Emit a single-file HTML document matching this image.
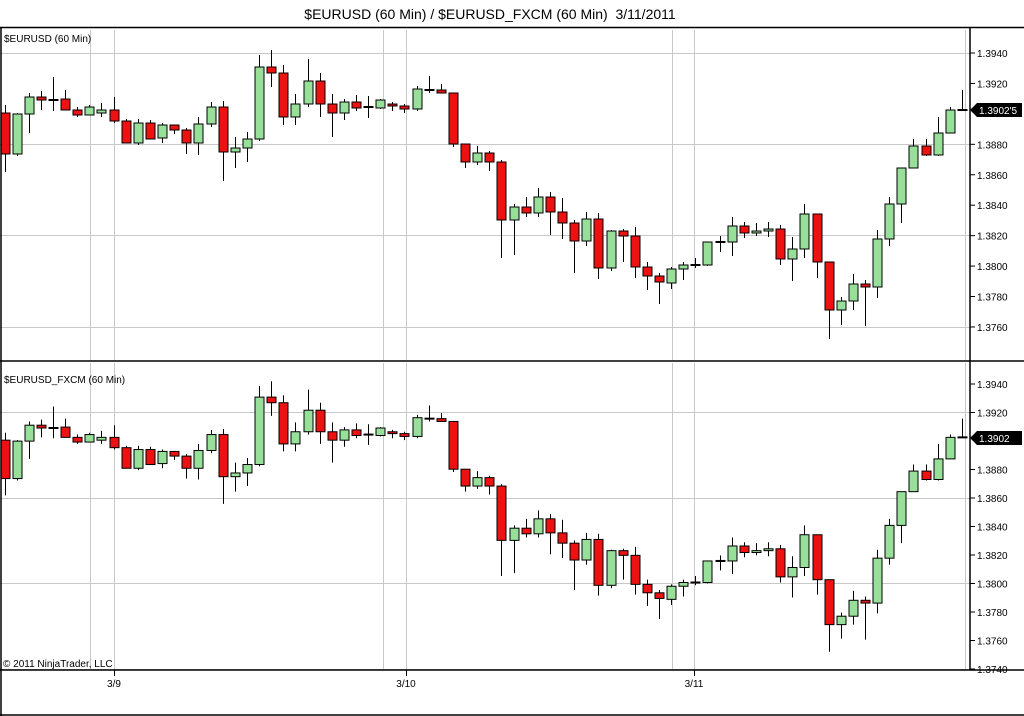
<!DOCTYPE html>
<html><head><meta charset="utf-8"><style>
html,body{margin:0;padding:0;background:#fff;width:1024px;height:716px;overflow:hidden}
svg{display:block}
text{font-family:"Liberation Sans",Arial,sans-serif}
</style></head><body>
<svg id="c" width="1024" height="716" viewBox="0 0 1024 716" xmlns="http://www.w3.org/2000/svg">
<text x="490" y="19" font-size="14" text-anchor="middle" fill="#000">$EURUSD (60 Min) / $EURUSD_FXCM (60 Min)&#160; 3/11/2011</text>
<g id="grid" stroke="#c8c8c8" stroke-width="1"></g>
<g id="cand"></g>
<g stroke="#000" stroke-width="1.5" fill="none">
<line x1="0" y1="27.5" x2="1024" y2="27.5"/>
<line x1="0" y1="361" x2="1024" y2="361"/>
<line x1="0" y1="670" x2="1024" y2="670"/>
<line x1="1" y1="27" x2="1" y2="716"/>
<line x1="970" y1="27" x2="970" y2="670"/>
<line x1="0" y1="715" x2="1024" y2="715"/>
</g>
<text x="4" y="42" font-size="10">$EURUSD (60 Min)</text>
<text x="4" y="383" font-size="10">$EURUSD_FXCM (60 Min)</text>
<text x="3" y="667" font-size="10">© 2011 NinjaTrader, LLC</text>
<g id="axis" font-size="10"></g>
</svg>
<script>
var d=[[113,154,105,172],[154,114,113,156],[114,97,93,133],[97,100,91,110],[100,100,77,111],[99,110,90,110],[110,115,107,117],[115,107,105,115],[113,110,103,117],[110,121,97,123],[121,143,119,143],[143,123,119,145],[123,139,120,139],[138,125,123,143],[125,130,125,134],[130,143,128,154],[143,124,117,155],[124,107,102,127],[107,152,101,181],[152,148,137,168],[148,139,132,162],[139,67,55,141],[67,73,50,87],[73,117,65,125],[117,104,94,125],[104,81,59,107],[81,104,73,117],[104,113,94,137],[113,102,99,120],[102,108,95,111],[107,107,96,118],[108,100,99,109],[104,106,102,111],[106,109,104,113],[109,89,86,111],[90,90,76,93],[90,93,84,93],[93,144,93,147],[144,162,144,168],[162,153,146,165],[153,162,151,171],[162,220,160,258],[220,207,204,255],[207,213,197,217],[213,197,188,217],[197,212,192,235],[212,223,198,239],[223,241,220,273],[241,219,212,246],[219,268,213,279],[268,231,230,271],[231,236,229,262],[236,267,227,278],[267,276,262,290],[276,282,273,304],[283,269,267,289],[269,265,262,280],[265,265,258,268],[265,242,242,266],[242,242,236,252],[242,226,217,256],[226,233,222,238],[233,231,223,236],[231,229,222,237],[229,259,225,265],[259,249,237,281],[249,214,204,258],[214,262,214,278],[262,310,262,339],[310,301,297,325],[301,284,274,310],[284,287,280,326],[287,239,230,298],[239,204,197,246],[204,168,168,223],[168,146,139,168],[146,155,139,156],[155,133,117,156],[133,110,107,133],[110,110,90,110]];
var ns="http://www.w3.org/2000/svg";
function el(p,t,a,txt){var e=document.createElementNS(ns,t);for(var k in a)e.setAttribute(k,a[k]);if(txt)e.textContent=txt;p.appendChild(e);return e;}
var g=document.getElementById('grid'),cg=document.getElementById('cand'),ax=document.getElementById('axis');
[90,114,383,406,672,694,965].forEach(function(x){el(g,'line',{x1:x+.5,y1:30,x2:x+.5,y2:360});el(g,'line',{x1:x+.5,y1:363,x2:x+.5,y2:670});});
[53,144,235,327].forEach(function(y){el(g,'line',{x1:0,y1:y+.5,x2:970,y2:y+.5});});
[412,498,583,669].forEach(function(y){el(g,'line',{x1:0,y1:y+.5,x2:970,y2:y+.5});});
function draw(f){for(var i=0;i<d.length;i++){var x=Math.round(4.5+12.12*i)+.5,o=f(d[i][0]),c=f(d[i][1]),h=f(d[i][2]),l=f(d[i][3]);
 el(cg,'line',{x1:x,y1:h,x2:x,y2:l,stroke:'#000','stroke-width':1});
 var t=Math.min(o,c),b=Math.max(o,c);
 if(b-t<1.2){el(cg,'line',{x1:x-5,y1:t,x2:x+5,y2:t,stroke:'#000','stroke-width':2});}
 else el(cg,'rect',{x:x-4.5,y:t,width:9,height:b-t,fill:c<o?'#98e09a':'#ee1111',stroke:'#000','stroke-width':1});}}
draw(function(y){return y;});
draw(function(y){return 384+(y-53)*0.9363;});
var tl=['1.3940','1.3920','1.3900','1.3880','1.3860','1.3840','1.3820','1.3800','1.3780','1.3760'];
tl.forEach(function(s,k){var y=53+30.44*k;if(k==2)return;el(ax,'line',{x1:970,y1:y,x2:975,y2:y,stroke:'#000'});el(ax,'text',{x:977,y:y+4},s);});
['1.3940','1.3920','1.3900','1.3880','1.3860','1.3840','1.3820','1.3800','1.3780','1.3760','1.3740'].forEach(function(s,k){var y=384+28.5*k;if(k==2)return;el(ax,'line',{x1:970,y1:y,x2:975,y2:y,stroke:'#000'});el(ax,'text',{x:977,y:y+4},s);});
function tag(y,s){el(ax,'polygon',{points:'970,'+y+' 977,'+(y-7)+' 1022,'+(y-7)+' 1022,'+(y+7)+' 977,'+(y+7),fill:'#000'});el(ax,'text',{x:979,y:y+4,fill:'#fff'},s);}
tag(110,"1.3902'5");tag(438,"1.3902");
[[114,'3/9'],[406,'3/10'],[694,'3/11']].forEach(function(a){el(ax,'line',{x1:a[0]+.5,y1:670,x2:a[0]+.5,y2:676,stroke:'#000'});el(ax,'text',{x:a[0],y:687,'text-anchor':'middle'},a[1]);});
</script>
</body></html>
